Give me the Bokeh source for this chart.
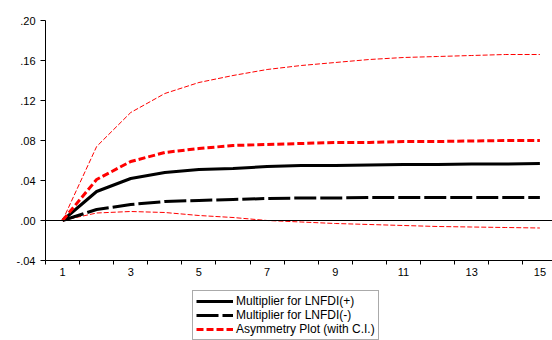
from bokeh.plotting import figure
from bokeh.models import (Range1d, FixedTicker, Span, Legend, LegendItem)
from bokeh.layouts import column
from bokeh.embed import file_html
from bokeh.resources import INLINE

# ---- data ----
periods = list(range(1, 16))
mult_pos = [0.0, 0.029, 0.042, 0.048, 0.051, 0.052, 0.054, 0.055, 0.055, 0.0555,
            0.056, 0.056, 0.0565, 0.0565, 0.057]
mult_neg = [0.0, 0.011, 0.016, 0.019, 0.020, 0.021, 0.022, 0.0225, 0.0225, 0.023,
            0.023, 0.023, 0.023, 0.023, 0.023]
asym = [0.0, 0.041, 0.059, 0.068, 0.072, 0.075, 0.076, 0.077, 0.078, 0.078,
        0.079, 0.079, 0.0795, 0.080, 0.080]
ci_upper = [0.0, 0.074, 0.108, 0.127, 0.138, 0.145, 0.151, 0.155, 0.158, 0.161,
            0.163, 0.164, 0.165, 0.166, 0.166]
ci_lower = [0.0, 0.0075, 0.009, 0.008, 0.005, 0.003, 0.0, -0.0015, -0.003, -0.004,
            -0.005, -0.006, -0.0065, -0.007, -0.0075]

y_ticks = [-0.04, 0.0, 0.04, 0.08, 0.12, 0.16, 0.20]
y_tick_labels = ["-.04", ".00", ".04", ".08", ".12", ".16", ".20"]
x_ticks = [1, 3, 5, 7, 9, 11, 13, 15]
x_tick_labels = ["1", "3", "5", "7", "9", "11", "13", "15"]
x_minor_ticks = [k + 0.5 for k in range(0, 16)]

legend_labels = ["Multiplier for LNFDI(+)", "Multiplier for LNFDI(-)",
                 "Asymmetry Plot (with C.I.)"]

FONT = "Liberation Sans"

# ---- main chart ----
p = figure(width=552, height=290, output_backend="svg", toolbar_location=None,
           x_range=Range1d(0.5, 15.37), y_range=Range1d(-0.04, 0.20),
           min_border_left=45, min_border_right=0, min_border_top=20,
           min_border_bottom=30)
p.outline_line_color = None
p.xgrid.visible = False
p.ygrid.visible = False
p.background_fill_color = "white"
p.border_fill_color = "white"

ya = p.yaxis[0]
ya.ticker = FixedTicker(ticks=y_ticks)
ya.major_label_overrides = dict(zip(y_ticks, y_tick_labels))
ya.major_tick_in = 0
ya.major_tick_out = 5
ya.minor_tick_line_color = None
ya.major_label_standoff = 5
ya.axis_line_color = "black"
ya.major_tick_line_color = "black"
ya.major_label_text_font = FONT
ya.major_label_text_font_size = "11px"
ya.major_label_text_color = "black"

xa = p.xaxis[0]
xa.ticker = FixedTicker(ticks=x_ticks, minor_ticks=x_minor_ticks)
xa.major_label_overrides = dict(zip(x_ticks, x_tick_labels))
xa.major_tick_line_color = None
xa.major_tick_in = 0
xa.major_tick_out = 4
xa.minor_tick_in = 0
xa.minor_tick_out = 4
xa.minor_tick_line_color = "black"
xa.major_label_standoff = 3
xa.axis_line_color = "black"
xa.major_label_text_font = FONT
xa.major_label_text_font_size = "11px"
xa.major_label_text_color = "black"

p.add_layout(Span(location=0, dimension="width", line_color="black", line_width=1))

STY_CI = dict(line_color="#ff0000", line_width=1, line_dash="5 2")
STY_NEG = dict(line_color="black", line_width=3, line_dash="22 4")
STY_POS = dict(line_color="black", line_width=3)
STY_ASYM = dict(line_color="#ff0000", line_width=3, line_dash="7 3")

p.line(periods, ci_upper, **STY_CI)
p.line(periods, ci_lower, **STY_CI)
p.line(periods, mult_neg, **STY_NEG)
p.line(periods, mult_pos, **STY_POS)
p.line(periods, asym, **STY_ASYM)

# ---- legend strip below (its frame is aligned with the chart's frame) ----
p2 = figure(width=552, height=50, output_backend="svg", toolbar_location=None,
            x_range=Range1d(0, 1), y_range=Range1d(0, 1),
            x_axis_type=None, y_axis_type=None,
            min_border_left=0, min_border_right=0, min_border_top=0,
            min_border_bottom=0)
p2.outline_line_color = None
p2.xgrid.visible = False
p2.ygrid.visible = False
p2.border_fill_color = "white"
# legend-only renderers: their points lie outside the visible ranges
l_pos = p2.line(x=[-5, -4], y=[-5, -4], **STY_POS)
l_neg = p2.line(x=[-5, -4], y=[-5, -4], **STY_NEG)
l_asym = p2.line(x=[-5, -4], y=[-5, -4], **STY_ASYM)

legend = Legend(items=[
    LegendItem(label=legend_labels[0], renderers=[l_pos]),
    LegendItem(label=legend_labels[1], renderers=[l_neg]),
    LegendItem(label=legend_labels[2], renderers=[l_asym]),
], location=(147, 0))
legend.label_text_font = FONT
legend.label_text_font_size = "12px"
legend.label_text_color = "black"
legend.label_height = 12
legend.glyph_height = 12
legend.glyph_width = 37
legend.label_standoff = 3
legend.spacing = 0
legend.padding = 3
legend.margin = 0
legend.border_line_color = "#555555"
legend.border_line_width = 1
legend.background_fill_alpha = 1.0
p2.add_layout(legend, "center")

open("out.html", "w").write(file_html(column(p, p2, spacing=0), INLINE))
